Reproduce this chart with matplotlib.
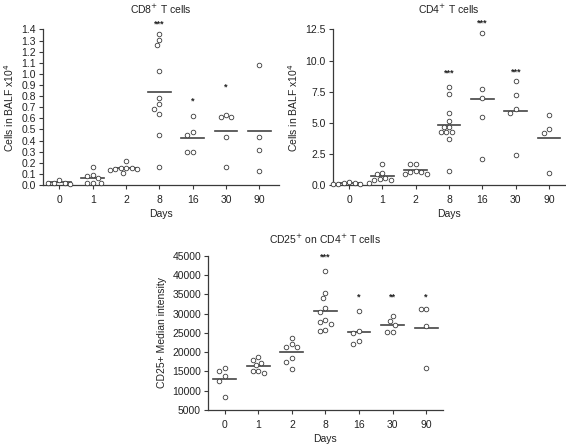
import matplotlib
matplotlib.use("Agg")
import matplotlib.pyplot as plt
import numpy as np

plt.rcParams["font.family"] = ["Liberation Sans", "DejaVu Sans"]

#  Data 
days = ["0", "1", "2", "8", "16", "30", "90"]

cd8 = [
    [0.05, 0.02, 0.02, 0.02, 0.01],
    [0.16, 0.093, 0.084, 0.063, 0.022, 0.02, 0.022],
    [0.216, 0.153, 0.156, 0.156, 0.144, 0.141, 0.108, 0.135],
    [1.361, 1.259, 1.304, 1.028, 0.779, 0.725, 0.686, 0.635, 0.453, 0.165],
    [0.617, 0.474, 0.453, 0.294, 0.297],
    [0.632, 0.611, 0.611, 0.435, 0.159],
    [1.082, 0.432, 0.312, 0.126],
]
cd4 = [
    [0.25, 0.15, 0.1, 0.05, 0.1, 0.15],
    [1.69, 0.96, 0.88, 0.43, 0.43, 0.46, 0.54, 0.19],
    [1.69, 1.69, 1.07, 1.15, 1.07, 0.86, 0.88],
    [7.84, 7.33, 5.75, 5.17, 4.68, 4.66, 4.26, 4.23, 4.26, 3.69, 1.15],
    [12.21, 7.74, 7.01, 5.5, 2.06],
    [8.38, 7.23, 6.10, 5.75, 2.41],
    [5.62, 4.47, 4.20, 0.94],
]
cd25 = [
    [15800, 15200, 13700, 12500, 8450],
    [18700, 18000, 17300, 16700, 15200, 14700, 15000],
    [23800, 22150, 21450, 21450, 18400, 17550, 15650],
    [41200, 35500, 34200, 31600, 30400, 27800, 27250, 28300, 25500, 25700],
    [30600, 25500, 25100, 22150, 22850],
    [29500, 28200, 27100, 25200, 25350],
    [31150, 31150, 26900, 15800],
]

cd8_stars = ["", "", "", "***", "*", "*", ""]
cd4_stars = ["", "", "", "***", "***", "***", ""]
cd25_stars = ["", "", "", "***", "*", "**", "*"]

DARK = "#3a3a3a"
TXT = "#222222"
CAT_PX = 33.4      # pixels per category
DIAM_PX = 5.5      # collision distance between circles


def swarm(vals, px_per_unit):
    # beeswarm: each point takes the free slot nearest the centre
    order = np.argsort(vals)[::-1]
    placed = []
    offs = np.zeros(len(vals))
    step = DIAM_PX / 2
    for idx in order:
        y = vals[idx] * px_per_unit
        k = 0
        while True:
            cand = [0.0] if k == 0 else [-k * step, k * step]
            ok = None
            for c in cand:
                if all((c - px) ** 2 + (y - py) ** 2 >= DIAM_PX ** 2 for px, py in placed):
                    ok = c
                    break
            if ok is not None:
                break
            k += 1
        placed.append((ok, y))
        offs[idx] = ok / CAT_PX
    return offs


def panel(ax, groups, stars, star_y, ylim, yticks, fmt, title, ylabel,
          title_pad, xmax=6.5):
    fig_h = ax.figure.get_figheight() * ax.figure.dpi
    px_per_unit = ax.get_position().height * fig_h / (ylim[1] - ylim[0])
    for i, g in enumerate(groups):
        g = np.asarray(g, dtype=float)
        x = i + swarm(g, px_per_unit)
        ax.scatter(x, g, s=11, facecolors="white", edgecolors=DARK,
                   linewidths=0.6, zorder=3, clip_on=False)
        m = g.mean()
        ax.plot([i - 0.34, i + 0.34], [m, m], color="#444444", lw=1.2, zorder=2)
        if stars[i]:
            ax.text(i, star_y[i], stars[i], ha="center", va="center",
                    fontsize=6.5, fontweight="bold", color=TXT)
    ax.set_xlim(-0.5, xmax)
    ax.set_ylim(*ylim)
    ax.set_xticks(range(len(days)))
    ax.set_xticklabels(days)
    ax.set_yticks(yticks)
    ax.set_yticklabels([fmt(v) for v in yticks])
    for side in ("top", "right"):
        ax.spines[side].set_visible(False)
    for side in ("left", "bottom"):
        ax.spines[side].set_color(DARK)
        ax.spines[side].set_linewidth(0.9)
    ax.tick_params(direction="out", length=3, width=0.8, color=DARK,
                   labelsize=7.5, pad=2, labelcolor=TXT)
    ax.tick_params(axis="x", pad=4)
    ax.set_xlabel("Days", fontsize=7.5, labelpad=3, color=TXT)
    ax.set_ylabel(ylabel, fontsize=7.5, color=TXT)
    ax.set_title(title, fontsize=7.5, color=TXT, pad=title_pad)


fig = plt.figure(figsize=(5.66, 4.46), dpi=100)

ax1 = fig.add_axes([0.0755, 0.585, 0.418, 0.349])
panel(ax1, cd8, cd8_stars, [0, 0, 0, 1.45, 0.76, 0.88, 0], (0, 1.4),
      np.round(np.arange(0, 1.41, 0.1), 1), lambda v: f"{v:.1f}",
      "CD8$^{+}$ T cells", "Cells in BALF x10$^{4}$", 11, xmax=6.6)

ax2 = fig.add_axes([0.5875, 0.585, 0.412, 0.349])
panel(ax2, cd4, cd4_stars, [0, 0, 0, 8.97, 12.98, 9.1, 0], (0, 12.5),
      [0, 2.5, 5, 7.5, 10, 12.5], lambda v: f"{v:.1f}",
      "CD4$^{+}$ T cells", "Cells in BALF x10$^{4}$", 11)

ax3 = fig.add_axes([0.3675, 0.081, 0.415, 0.345])
panel(ax3, cd25, cd25_stars, [0, 0, 0, 44650, 34350, 34350, 34350], (5000, 45000),
      list(range(5000, 45001, 5000)), lambda v: f"{v}",
      "CD25$^{+}$ on CD4$^{+}$ T cells", "CD25+ Median intensity", 9)

fig.savefig("out.png", dpi=100)
